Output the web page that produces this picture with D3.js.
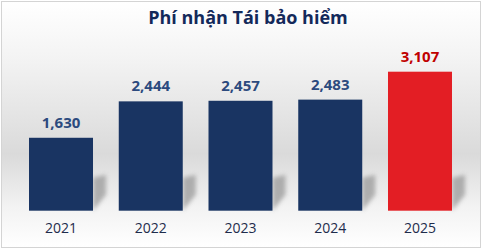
<!DOCTYPE html>
<html>
<head>
<meta charset="utf-8">
<script src="https://cdn.jsdelivr.net/npm/d3@7"></script>
<style>
  html, body { margin: 0; padding: 0; background: #fff; }
  svg { display: block; }
</style>
</head>
<body>
<div id="chart"></div>
<script>
// data
const years = ['2021', '2022', '2023', '2024', '2025'];
const premiums = [1630, 2444, 2457, 2483, 3107];
const highlightYear = '2025';
const chartTitle = 'Phí nhận Tái bảo hiểm';

const width = 482;
const height = 250;
const baseY = 210.7;

const svg = d3.select('#chart')
    .append('svg')
    .attr('width', width)
    .attr('height', height);

const defs = svg.append('defs');

// background gradient: white top, gray in the middle, white near bottom
const bg = defs.append('linearGradient')
    .attr('id', 'bg')
    .attr('x1', 0).attr('y1', 0).attr('x2', 0).attr('y2', 1);
bg.append('stop').attr('offset', '0%').attr('stop-color', '#ffffff');
bg.append('stop').attr('offset', '22%').attr('stop-color', '#f4f4f4');
bg.append('stop').attr('offset', '62%').attr('stop-color', '#dadada');
bg.append('stop').attr('offset', '84%').attr('stop-color', '#f3f3f3');
bg.append('stop').attr('offset', '100%').attr('stop-color', '#ffffff');

const blur = defs.append('filter').attr('id', 'blur')
    .attr('x', '-50%').attr('y', '-50%').attr('width', '200%').attr('height', '200%');
blur.append('feGaussianBlur').attr('stdDeviation', 2);

svg.append('rect')
    .attr('x', 1.5).attr('y', 1.5)
    .attr('width', width - 3).attr('height', height - 4)
    .attr('fill', 'url(#bg)')
    .attr('stroke', '#d4d4d4')
    .attr('stroke-width', 1);

// scales
const x = d3.scaleBand()
    .domain(years)
    .range([16, 465])
    .paddingInner(0.287)
    .paddingOuter(0.145);

const y = d3.scaleLinear()
    .domain([0, 3107])
    .range([baseY, 71.7]);

const data = years.map((yr, i) => ({ year: yr, value: premiums[i] }));

// soft shadows to the right of each bar
svg.append('g')
    .selectAll('path')
    .data(data)
    .enter().append('path')
    .attr('d', d => {
        const r = x(d.year) + x.bandwidth();
        return `M${r},${baseY - 33} L${r + 13},${baseY - 36} L${r + 13},${baseY - 16} L${r},${baseY} Z`;
    })
    .attr('fill', '#9a9a9a')
    .attr('opacity', 0.75)
    .attr('filter', 'url(#blur)');

// bars
svg.append('g')
    .selectAll('rect')
    .data(data)
    .enter().append('rect')
    .attr('x', d => x(d.year))
    .attr('y', d => y(d.value))
    .attr('width', x.bandwidth())
    .attr('height', d => baseY - y(d.value))
    .attr('fill', d => d.year === highlightYear ? '#e31e24' : '#193462');

// value labels
svg.append('g')
    .selectAll('text')
    .data(data)
    .enter().append('text')
    .attr('x', d => x(d.year) + x.bandwidth() / 2)
    .attr('y', d => y(d.value) - 10)
    .attr('text-anchor', 'middle')
    .style('font-family', '"Open Sans", sans-serif')
    .style('font-weight', 'bold')
    .style('font-size', '15px')
    .style('fill', d => d.year === highlightYear ? '#c00000' : '#2c4a7e')
    .text(d => d3.format(',')(d.value));

// x axis labels
const xAxis = d3.axisBottom(x).tickSize(0).tickPadding(12);
const axisG = svg.append('g')
    .attr('transform', `translate(0,${baseY})`)
    .call(xAxis);
axisG.select('.domain').remove();
axisG.selectAll('text')
    .style('font-family', '"Open Sans", sans-serif')
    .style('font-size', '14px')
    .style('fill', '#1e2c4c');

// title
svg.append('text')
    .attr('x', 248)
    .attr('y', 24)
    .attr('text-anchor', 'middle')
    .style('font-family', '"Open Sans", sans-serif')
    .style('font-weight', 'bold')
    .style('font-size', '18px')
    .style('fill', '#13295a')
    .text(chartTitle);
</script>
</body>
</html>
